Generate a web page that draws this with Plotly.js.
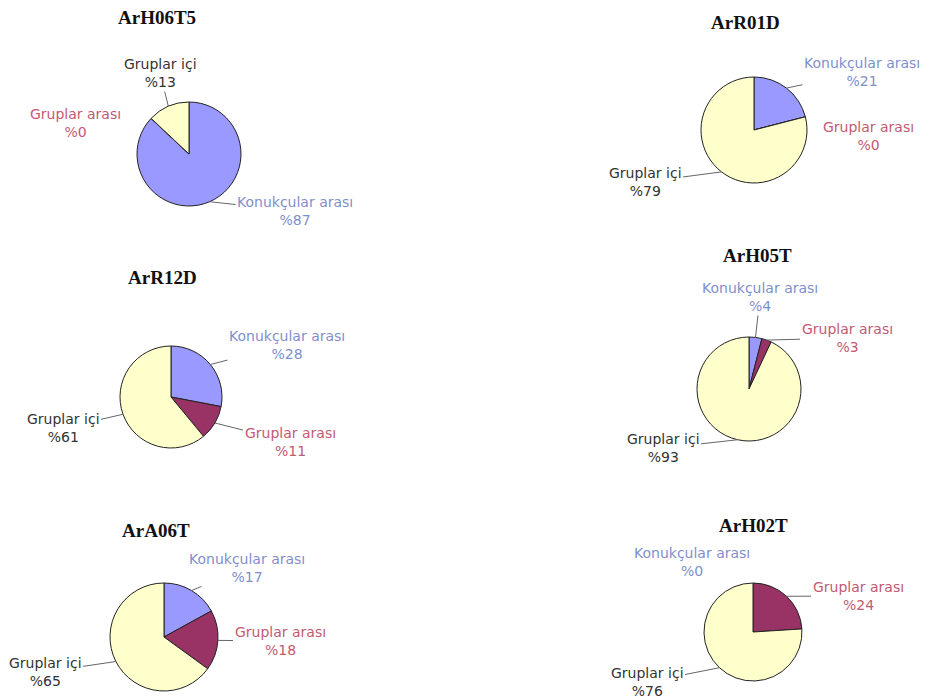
<!DOCTYPE html>
<html>
<head>
<meta charset="utf-8">
<script src="https://cdn.plot.ly/plotly-3.0.1.min.js"></script>
<style>
html,body{margin:0;padding:0;background:#fff;}
#chart{width:930px;height:700px;}
.lbl-text{letter-spacing:0.6px;}
</style>
</head>
<body>
<div id="chart"></div>
<script>
// ---- data ----
const charts = ['ArH06T5', 'ArR01D', 'ArR12D', 'ArH05T', 'ArA06T', 'ArH02T'];
const categories = ['Konukçular arası', 'Gruplar arası', 'Gruplar içi'];
const konukcularArasi = [87, 21, 28, 4, 17, 0];
const gruplarArasi = [0, 0, 11, 3, 18, 24];
const gruplarIci = [13, 79, 61, 93, 65, 76];

// ---- layout (pixel positions) ----
const W = 930, H = 700;
const pies = [
  {cx: 189, cy: 154, r: 52, t: [157, 18], lab: [[295, 211], [75, 123], [160, 73]]},
  {cx: 754, cy: 130, r: 53, t: [745, 22], lab: [[862, 72], [868, 136], [645, 182]]},
  {cx: 171, cy: 397, r: 51, t: [162, 277], lab: [[287, 345], [290, 442], [63, 428]]},
  {cx: 749, cy: 389, r: 52, t: [757, 256], lab: [[760, 297], [847, 338], [663, 448]]},
  {cx: 164, cy: 637, r: 54, t: [156, 530], lab: [[247, 568], [280, 641], [45, 672]]},
  {cx: 753, cy: 632, r: 49, t: [753, 525], lab: [[692, 562], [858, 596], [647, 682]]}
];
const sliceColors = ['#9999FF', '#993366', '#FFFFCC'];
const textColors = ['#7f8fcc', '#c25a72', '#333333'];

const traces = [];
const annotations = [];
charts.forEach((name, i) => {
  const vals = [konukcularArasi[i], gruplarArasi[i], gruplarIci[i]];
  const p = pies[i];
  traces.push({
    type: 'pie',
    values: vals,
    labels: categories,
    sort: false,
    direction: 'clockwise',
    rotation: 0,
    textinfo: 'none',
    hoverinfo: 'none',
    marker: {colors: sliceColors, line: {color: '#222', width: 1}},
    domain: {
      x: [(p.cx - p.r) / W, (p.cx + p.r) / W],
      y: [1 - (p.cy + p.r) / H, 1 - (p.cy - p.r) / H]
    }
  });
  annotations.push({
    xref: 'paper', yref: 'paper', x: p.t[0] / W, y: 1 - p.t[1] / H,
    text: name, showarrow: false, xanchor: 'center', yanchor: 'middle',
    font: {family: 'Liberation Serif, Times New Roman, serif', size: 19, color: '#111', weight: 'bold'}
  });
  const total = vals.reduce((a, b) => a + b, 0);
  let cum = 0;
  vals.forEach((v, k) => {
    const ang = 2 * Math.PI * (cum + v / 2) / total;
    cum += v;
    const tipX = p.cx + p.r * Math.sin(ang);
    const tipY = p.cy - p.r * Math.cos(ang);
    const lx = p.lab[k][0], ly = p.lab[k][1];
    const ann = {
      xref: 'paper', yref: 'paper',
      text: '<span class="lbl">' + categories[k] + '</span><br>%' + v,
      align: 'center',
      font: {family: 'DejaVu Sans, sans-serif', size: 14, color: textColors[k]}
    };
    if (v > 0) {
      Object.assign(ann, {
        x: tipX / W, y: 1 - tipY / H, ax: lx - tipX, ay: ly - tipY,
        showarrow: true, arrowhead: 0, arrowwidth: 1, arrowcolor: '#666', standoff: 0
      });
    } else {
      Object.assign(ann, {x: lx / W, y: 1 - ly / H, showarrow: false, xanchor: 'center', yanchor: 'middle'});
    }
    annotations.push(ann);
  });
});

Plotly.newPlot('chart', traces, {
  width: W, height: H,
  margin: {l: 0, r: 0, t: 0, b: 0},
  paper_bgcolor: '#fff', plot_bgcolor: '#fff',
  showlegend: false,
  annotations: annotations
}, {displayModeBar: false, staticPlot: true});
</script>
</body>
</html>
